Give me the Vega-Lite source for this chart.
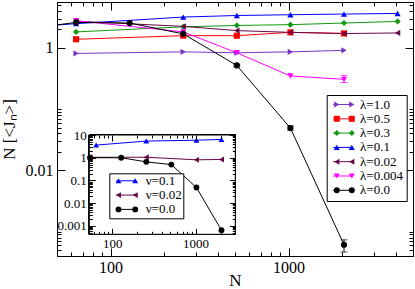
{
  "$schema": "https://vega.github.io/schema/vega-lite/v6.json",
  "width": 356,
  "height": 254,
  "autosize": "none",
  "padding": {"left": 57, "top": 2, "right": 2, "bottom": 33},
  "config": {
    "view": {"stroke": "black", "strokeWidth": 1},
    "font": "Liberation Serif",
    "axis": {"domainColor": "black", "tickColor": "black", "labelColor": "black", "titleColor": "black", "grid": false, "labelFont": "Liberation Serif", "titleFont": "Liberation Serif", "titleFontWeight": "normal", "tickWidth": 1, "domainWidth": 1},
    "legend": {"labelFont": "Liberation Serif", "labelColor": "black", "labelFontWeight": "normal"}
  },
  "datasets": {
    "main": [
      {"s": "λ=1.0", "N": 64, "J": 0.81},
      {"s": "λ=1.0", "N": 256, "J": 0.86},
      {"s": "λ=1.0", "N": 512, "J": 0.83},
      {"s": "λ=1.0", "N": 1024, "J": 0.86},
      {"s": "λ=1.0", "N": 2048, "J": 0.91},
      {"s": "λ=0.5", "N": 64, "J": 1.38},
      {"s": "λ=0.5", "N": 256, "J": 1.58},
      {"s": "λ=0.5", "N": 512, "J": 1.58},
      {"s": "λ=0.5", "N": 1024, "J": 1.79},
      {"s": "λ=0.5", "N": 2048, "J": 1.72},
      {"s": "λ=0.3", "N": 64, "J": 1.82},
      {"s": "λ=0.3", "N": 256, "J": 2.2},
      {"s": "λ=0.3", "N": 512, "J": 2.32},
      {"s": "λ=0.3", "N": 1024, "J": 2.39},
      {"s": "λ=0.3", "N": 2048, "J": 2.54},
      {"s": "λ=0.3", "N": 4096, "J": 2.7},
      {"s": "λ=0.1", "N": 32, "J": 2.15},
      {"s": "λ=0.1", "N": 64, "J": 2.48},
      {"s": "λ=0.1", "N": 256, "J": 3.18},
      {"s": "λ=0.1", "N": 512, "J": 3.37},
      {"s": "λ=0.1", "N": 1024, "J": 3.47},
      {"s": "λ=0.1", "N": 2048, "J": 3.56},
      {"s": "λ=0.1", "N": 4096, "J": 3.64},
      {"s": "λ=0.02", "N": 64, "J": 2.72},
      {"s": "λ=0.02", "N": 256, "J": 2.24},
      {"s": "λ=0.02", "N": 512, "J": 1.91},
      {"s": "λ=0.02", "N": 1024, "J": 1.79},
      {"s": "λ=0.02", "N": 2048, "J": 1.71},
      {"s": "λ=0.02", "N": 4096, "J": 1.75},
      {"s": "λ=0.004", "N": 64, "J": 2.77},
      {"s": "λ=0.004", "N": 256, "J": 1.82},
      {"s": "λ=0.004", "N": 512, "J": 0.83},
      {"s": "λ=0.004", "N": 1024, "J": 0.347},
      {"s": "λ=0.004", "N": 2048, "J": 0.306, "lo": 0.271, "hi": 0.356},
      {"s": "λ=0.0", "N": 32, "J": 2.0},
      {"s": "λ=0.0", "N": 64, "J": 2.6},
      {"s": "λ=0.0", "N": 128, "J": 2.54},
      {"s": "λ=0.0", "N": 256, "J": 1.69},
      {"s": "λ=0.0", "N": 512, "J": 0.516, "lo": 0.49, "hi": 0.54},
      {"s": "λ=0.0", "N": 1024, "J": 0.049, "lo": 0.0455, "hi": 0.053},
      {"s": "λ=0.0", "N": 2048, "J": 0.00061, "lo": 0.000464, "hi": 0.000734}
    ],
    "inset": [
      {"s": "ν=0.1", "N": 64, "J": 3.6},
      {"s": "ν=0.1", "N": 256, "J": 5.4},
      {"s": "ν=0.1", "N": 1024, "J": 5.9},
      {"s": "ν=0.1", "N": 2048, "J": 6.4},
      {"s": "ν=0.02", "N": 54, "J": 1.05},
      {"s": "ν=0.02", "N": 256, "J": 1.05},
      {"s": "ν=0.02", "N": 1024, "J": 0.81},
      {"s": "ν=0.02", "N": 2048, "J": 0.84},
      {"s": "ν=0.0", "N": 54, "J": 1.0},
      {"s": "ν=0.0", "N": 128, "J": 1.0},
      {"s": "ν=0.0", "N": 256, "J": 0.66},
      {"s": "ν=0.0", "N": 512, "J": 0.5},
      {"s": "ν=0.0", "N": 1024, "J": 0.049},
      {"s": "ν=0.0", "N": 2048, "J": 0.00065}
    ]
  },
  "layer": [
    {
      "data": {"name": "main"},
      "layer": [
        {
          "mark": {"type": "line", "strokeWidth": 1, "clip": true},
          "encoding": {
            "x": {"field": "N", "type": "quantitative", "scale": {"type": "log", "domain": [50, 5000], "nice": false},
              "axis": {"orient": "bottom", "values": [50,60,70,80,90,100,200,300,400,500,600,700,800,900,1000,2000,3000,4000,5000],
                "labelExpr": "datum.value == 100 ? '100' : datum.value == 1000 ? '1000' : ''",
                "tickSize": {"condition": {"test": "datum.value == 100 || datum.value == 1000", "value": -8}, "value": -4},
                "labelPadding": 11, "labelFontSize": 16, "labelFlush": false, "labelOverlap": false,
                "title": "N", "titleFontSize": 17, "titleX": 178, "titleY": 29.5, "titleBaseline": "alphabetic"}},
            "y": {"field": "J", "type": "quantitative", "scale": {"type": "log", "domain": [0.0004, 5.6], "nice": false},
              "axis": {"orient": "left", "values": [0.0004,0.0005,0.0006,0.0007,0.0008,0.0009,0.001,0.01,0.02,0.03,0.04,0.05,0.06,0.07,0.08,0.09,0.1,1,2,3,4,5],
                "labelExpr": "datum.value == 1 ? '1' : datum.value == 0.01 ? '0.01' : ''",
                "tickSize": {"condition": {"test": "datum.value == 1 || datum.value == 0.01", "value": -8}, "value": -4},
                "labelPadding": 12, "labelFontSize": 16, "labelFlush": false, "labelOverlap": false,
                "title": "N [<Jₙ>]", "titleFontSize": 17, "titleX": -43, "titleY": 127, "titleAngle": -90, "titleAlign": "center", "titleBaseline": "alphabetic"}},
            "color": {"field": "s", "type": "nominal",
              "scale": {"domain": ["λ=1.0","λ=0.5","λ=0.3","λ=0.1","λ=0.02","λ=0.004","λ=0.0"], "range": ["#7a35c8","#ff0000","#119911","#0000ff","#670748","#ff00ff","#000000"]},
              "legend": {"orient": "none", "legendX": 269.7, "legendY": 93, "padding": 3, "rowPadding": 0.3, "labelFont": "Liberation Serif", "labelFontSize": 13, "labelOffset": 17, "strokeColor": "black", "fillColor": "white", "title": null, "symbolType": "M-1,0H5", "symbolSize": 44.4, "symbolStrokeWidth": 1, "symbolOffset": 0.3, "labelLimit": 200}}
          }
        },
        {
          "transform": [{"filter": "isValid(datum.lo)"}],
          "mark": {"type": "rule", "strokeWidth": 1},
          "encoding": {
            "x": {"field": "N", "type": "quantitative", "axis": null},
            "y": {"field": "lo", "type": "quantitative", "axis": null},
            "y2": {"field": "hi"},
            "color": {"field": "s", "type": "nominal", "legend": null}
          }
        },
        {
          "transform": [{"filter": "isValid(datum.lo)"}, {"fold": ["lo", "hi"], "as": ["k", "v"]}],
          "mark": {"type": "tick", "orient": "horizontal", "thickness": 1, "size": 7},
          "encoding": {
            "x": {"field": "N", "type": "quantitative", "axis": null},
            "y": {"field": "v", "type": "quantitative", "axis": null},
            "color": {"field": "s", "type": "nominal", "legend": null}
          }
        },
        {
          "mark": {"type": "point", "filled": true, "opacity": 1, "size": 38, "clip": true},
          "encoding": {
            "x": {"field": "N", "type": "quantitative",
              "axis": {"orient": "top", "values": [50,60,70,80,90,100,200,300,400,500,600,700,800,900,1000,2000,3000,4000,5000], "labels": false, "domain": false,
                "tickSize": {"condition": {"test": "datum.value == 100 || datum.value == 1000", "value": -8}, "value": -4}, "title": null}},
            "y": {"field": "J", "type": "quantitative",
              "axis": {"orient": "right", "values": [0.0004,0.0005,0.0006,0.0007,0.0008,0.0009,0.001,0.01,0.02,0.03,0.04,0.05,0.06,0.07,0.08,0.09,0.1,1,2,3,4,5], "labels": false, "domain": false,
                "tickSize": {"condition": {"test": "datum.value == 1 || datum.value == 0.01", "value": -8}, "value": -4}, "title": null}},
            "color": {"field": "s", "type": "nominal",
              "legend": {"orient": "none", "legendX": 269.7, "legendY": 93, "padding": 3, "rowPadding": 0.3, "labelFontSize": 13, "labelExpr": "''", "title": null, "symbolSize": 36, "symbolOffset": 0.6, "labelOffset": 17, "labelLimit": 200}},
            "shape": {"field": "s", "type": "nominal",
              "scale": {"domain": ["λ=1.0","λ=0.5","λ=0.3","λ=0.1","λ=0.02","λ=0.004","λ=0.0"], "range": ["triangle-right","square","diamond","triangle-up","triangle-left","triangle-down","circle"]},
              "legend": {"orient": "none", "legendX": 269.7, "legendY": 93, "padding": 3, "rowPadding": 0.3, "labelFontSize": 13, "labelExpr": "''", "title": null, "symbolSize": 36, "symbolOffset": 0.6, "labelOffset": 17, "labelLimit": 200}}
          }
        },
        {
          "transform": [{"filter": "false"}],
          "mark": {"type": "point", "filled": true, "opacity": 1, "size": 38},
          "encoding": {
            "x": {"field": "N", "type": "quantitative", "axis": null},
            "y": {"field": "J", "type": "quantitative", "axis": null},
            "color": {"field": "s", "type": "nominal",
              "legend": {"orient": "none", "legendX": 269.7, "legendY": 93, "padding": 3, "rowPadding": 0.3, "labelFontSize": 13, "labelExpr": "''", "title": null, "symbolSize": 36, "symbolOffset": 15.6, "labelOffset": 17, "labelLimit": 200}},
            "shape": {"field": "s", "type": "nominal",
              "legend": {"orient": "none", "legendX": 269.7, "legendY": 93, "padding": 3, "rowPadding": 0.3, "labelFontSize": 13, "labelExpr": "''", "title": null, "symbolSize": 36, "symbolOffset": 15.6, "labelOffset": 17, "labelLimit": 200}}
          }
        }
      ],
      "resolve": {"axis": {"x": "independent", "y": "independent"}, "legend": {"color": "independent", "shape": "independent"}}
    },
    {
      "data": {"name": "inset"},
      "layer": [
        {
          "mark": {"type": "rect", "fill": "white", "stroke": "black", "strokeWidth": 1},
          "encoding": {
            "x": {"datum": 53, "type": "quantitative", "scale": {"type": "log", "domain": [53, 3000], "range": [32.3, 178.3], "nice": false},
              "axis": {"orient": "top", "offset": -133, "values": [60,70,80,90,100,200,300,400,500,600,700,800,900,1000,2000,3000], "labels": false, "domain": false, "zindex": 1,
                "tickSize": {"condition": {"test": "datum.value == 100 || datum.value == 1000", "value": -6}, "value": -3}, "title": null}},
            "x2": {"datum": 3000},
            "y": {"datum": 0.00043, "type": "quantitative", "scale": {"type": "log", "domain": [0.00043, 10], "range": [232.3, 133], "nice": false},
              "axis": {"orient": "right", "offset": -177.7, "values": [0.0005,0.0006,0.0007,0.0008,0.0009,0.001,0.002,0.003,0.004,0.005,0.006,0.007,0.008,0.009,0.01,0.02,0.03,0.04,0.05,0.06,0.07,0.08,0.09,0.1,0.2,0.3,0.4,0.5,0.6,0.7,0.8,0.9,1,2,3,4,5,6,7,8,9,10], "labels": false, "domain": false, "zindex": 1,
                "tickSize": {"condition": {"test": "datum.value == 0.001 || datum.value == 0.01 || datum.value == 0.1 || datum.value == 1 || datum.value == 10", "value": -6}, "value": -3}, "title": null}},
            "y2": {"datum": 10}
          }
        },
        {
          "mark": {"type": "line", "strokeWidth": 1},
          "encoding": {
            "x": {"field": "N", "type": "quantitative",
              "axis": {"orient": "bottom", "offset": -21.7, "values": [60,70,80,90,100,200,300,400,500,600,700,800,900,1000,2000,3000], "zindex": 1, "domain": false,
                "labelExpr": "datum.value == 100 ? '100' : datum.value == 1000 ? '1000' : ''",
                "tickSize": {"condition": {"test": "datum.value == 100 || datum.value == 1000", "value": -6}, "value": -3},
                "labelPadding": 9, "labelFontSize": 13, "labelFlush": false, "labelOverlap": false, "title": null}},
            "y": {"field": "J", "type": "quantitative",
              "axis": {"orient": "left", "offset": -32.3, "values": [0.0005,0.0006,0.0007,0.0008,0.0009,0.001,0.002,0.003,0.004,0.005,0.006,0.007,0.008,0.009,0.01,0.02,0.03,0.04,0.05,0.06,0.07,0.08,0.09,0.1,0.2,0.3,0.4,0.5,0.6,0.7,0.8,0.9,1,2,3,4,5,6,7,8,9,10], "zindex": 1, "domain": false,
                "labelExpr": "datum.value == 10 ? '10' : datum.value == 1 ? '1' : datum.value == 0.1 ? '0.1' : datum.value == 0.01 ? '0.01' : datum.value == 0.001 ? '0.001' : ''",
                "tickSize": {"condition": {"test": "datum.value == 0.001 || datum.value == 0.01 || datum.value == 0.1 || datum.value == 1 || datum.value == 10", "value": -6}, "value": -3},
                "labelPadding": 9, "labelFontSize": 13, "labelFlush": false, "labelOverlap": false, "title": null}},
            "color": {"field": "s", "type": "nominal",
              "scale": {"domain": ["ν=0.1","ν=0.02","ν=0.0"], "range": ["#0000ff","#670748","#000000"]},
              "legend": {"orient": "none", "legendX": 52.3, "legendY": 171.3, "padding": 1, "rowPadding": 0.3, "labelFont": "Liberation Serif", "labelFontSize": 13, "labelOffset": 19.7, "strokeColor": "black", "fillColor": "white", "title": null, "symbolType": "M-1,0H5", "symbolSize": 44.4, "symbolStrokeWidth": 1, "symbolOffset": 2.7, "labelLimit": 200}}
          }
        },
        {
          "mark": {"type": "point", "filled": true, "opacity": 1, "size": 34},
          "encoding": {
            "x": {"field": "N", "type": "quantitative", "axis": null},
            "y": {"field": "J", "type": "quantitative", "axis": null},
            "color": {"field": "s", "type": "nominal",
              "legend": {"orient": "none", "legendX": 52.3, "legendY": 171.3, "padding": 1, "rowPadding": 0.3, "labelFontSize": 13, "labelExpr": "''", "title": null, "symbolSize": 34, "symbolOffset": 1.7, "labelOffset": 19.7, "labelLimit": 200}},
            "shape": {"field": "s", "type": "nominal",
              "scale": {"domain": ["ν=0.1","ν=0.02","ν=0.0"], "range": ["triangle-up","triangle-left","circle"]},
              "legend": {"orient": "none", "legendX": 52.3, "legendY": 171.3, "padding": 1, "rowPadding": 0.3, "labelFontSize": 13, "labelExpr": "''", "title": null, "symbolSize": 34, "symbolOffset": 1.7, "labelOffset": 19.7, "labelLimit": 200}}
          }
        },
        {
          "transform": [{"filter": "false"}],
          "mark": {"type": "point", "filled": true, "opacity": 1, "size": 34},
          "encoding": {
            "x": {"field": "N", "type": "quantitative", "axis": null},
            "y": {"field": "J", "type": "quantitative", "axis": null},
            "color": {"field": "s", "type": "nominal",
              "legend": {"orient": "none", "legendX": 52.3, "legendY": 171.3, "padding": 1, "rowPadding": 0.3, "labelFontSize": 13, "labelExpr": "''", "title": null, "symbolSize": 34, "symbolOffset": 18.4, "labelOffset": 19.7, "labelLimit": 200}},
            "shape": {"field": "s", "type": "nominal",
              "legend": {"orient": "none", "legendX": 52.3, "legendY": 171.3, "padding": 1, "rowPadding": 0.3, "labelFontSize": 13, "labelExpr": "''", "title": null, "symbolSize": 34, "symbolOffset": 18.4, "labelOffset": 19.7, "labelLimit": 200}}
          }
        }
      ],
      "resolve": {"axis": {"x": "independent", "y": "independent"}, "legend": {"color": "independent", "shape": "independent"}}
    }
  ],
  "resolve": {
    "scale": {"x": "independent", "y": "independent", "color": "independent", "shape": "independent"},
    "axis": {"x": "independent", "y": "independent"},
    "legend": {"color": "independent", "shape": "independent"}
  }
}
